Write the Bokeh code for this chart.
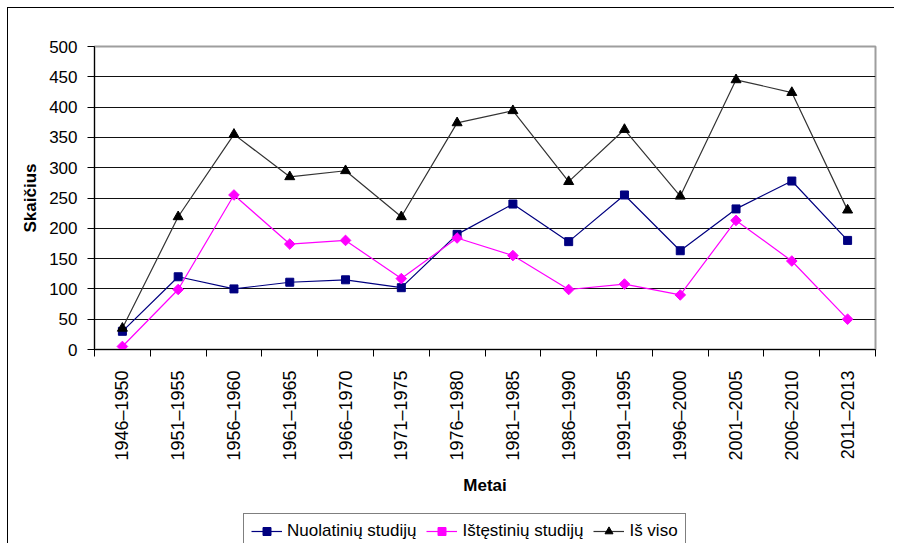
import math
from bokeh.plotting import figure
from bokeh.models import Range1d, FixedTicker, Legend, LegendItem, Spacer
from bokeh.layouts import column, row
from bokeh.embed import file_html
from bokeh.resources import INLINE

periods = ["1946–1950", "1951–1955", "1956–1960", "1961–1965", "1966–1970",
           "1971–1975", "1976–1980", "1981–1985", "1986–1990", "1991–1995",
           "1996–2000", "2001–2005", "2006–2010", "2011–2013"]
nuolatiniu = [30, 120, 100, 111, 115, 102, 190, 240, 178, 255, 163, 232, 278, 180]
istestiniu = [5, 99, 255, 174, 180, 117, 184, 155, 99, 108, 90, 213, 146, 50]
is_viso = [35, 219, 355, 285, 295, 219, 374, 394, 277, 363, 253, 445, 424, 230]
y_ticks = [0, 50, 100, 150, 200, 250, 300, 350, 400, 450, 500]
series_names = ["Nuolatinių studijų", "Ištęstinių studijų", "Iš viso"]

FONT = "Liberation Sans"
xs = list(range(len(periods)))

p = figure(width=894, height=508, output_backend="svg", toolbar_location=None,
           x_range=Range1d(-0.5, len(periods) - 0.5), y_range=Range1d(0, 500),
           min_border_left=94, min_border_right=19, min_border_top=46,
           min_border_bottom=159)
p.background_fill_color = "white"
p.border_fill_color = None
p.outline_line_color = "#9e9e9e"
p.outline_line_width = 2

# x axis
p.xaxis.ticker = FixedTicker(ticks=xs, minor_ticks=[i - 0.5 for i in range(len(periods) + 1)])
p.xaxis.major_label_overrides = {i: lab for i, lab in zip(xs, periods)}
p.xaxis.major_label_orientation = 1.5707963267948966
p.xaxis.major_tick_out = 0
p.xaxis.major_tick_in = 0
p.xaxis.minor_tick_out = 7
p.xaxis.minor_tick_in = 0
p.xaxis.minor_tick_line_color = "black"
p.xaxis.major_label_standoff = 14
p.xaxis.major_label_text_font = FONT
p.xaxis.major_label_text_font_size = "18px"
p.xaxis.major_label_text_color = "black"
p.xaxis.axis_label = "Metai"
p.xaxis.axis_label_text_font = FONT
p.xaxis.axis_label_text_font_size = "17px"
p.xaxis.axis_label_text_font_style = "bold"
p.xaxis.axis_label_standoff = 12
p.xaxis.axis_label_text_color = "black"
p.xaxis.axis_line_color = "black"

# y axis
p.yaxis.ticker = FixedTicker(ticks=y_ticks)
p.yaxis.major_tick_out = 7
p.yaxis.major_tick_in = 0
p.yaxis.minor_tick_line_color = None
p.yaxis.major_label_standoff = 10
p.yaxis.major_label_text_font = FONT
p.yaxis.major_label_text_font_size = "17px"
p.yaxis.major_label_text_color = "black"
p.yaxis.axis_label = "Skaičius"
p.yaxis.axis_label_text_font = FONT
p.yaxis.axis_label_text_font_size = "17px"
p.yaxis.axis_label_text_font_style = "bold"
p.yaxis.axis_label_standoff = 6
p.yaxis.axis_label_text_color = "black"
p.yaxis.axis_line_color = "black"

p.xgrid.grid_line_color = None
p.ygrid.ticker = FixedTicker(ticks=y_ticks)
p.ygrid.grid_line_color = "#111111"
p.ygrid.grid_line_width = 1

styles = [
    dict(line_color="#000080", marker="square", size=8, angle=0.0, fill="#000080"),
    dict(line_color="#FF00FF", marker="square", size=7.5, angle=math.pi / 4, fill="#FF00FF"),
    dict(line_color="#333333", marker="triangle", size=10, angle=0.0, fill="black"),
]
all_series = [nuolatiniu, istestiniu, is_viso]


def draw(fig, xvals):
    out = []
    for ys, st in zip(all_series, styles):
        ln = fig.line(xvals, ys, line_color=st["line_color"], line_width=1.2)
        mk = fig.scatter(xvals, ys, marker=st["marker"], size=st["size"], angle=st["angle"],
                         fill_color=st["fill"], line_color=st["fill"])
        out.append([ln, mk])
    return out


draw(p, xs)

# legend figure (its own copies of the series, kept outside its visible range)
pl = figure(width=445, height=35, output_backend="svg", toolbar_location=None,
            x_range=Range1d(100, 101), y_range=Range1d(1000, 1001),
            x_axis_type=None, y_axis_type=None,
            min_border_left=0, min_border_right=0, min_border_top=5, min_border_bottom=0)
pl.background_fill_color = None
pl.border_fill_color = None
pl.outline_line_color = None
pl.xgrid.grid_line_color = None
pl.ygrid.grid_line_color = None
leg_rends = draw(pl, xs)

legend = Legend(items=[LegendItem(label=n, renderers=r) for n, r in zip(series_names, leg_rends)],
                orientation="horizontal", location="top_left")
legend.label_text_font = FONT
legend.label_text_font_size = "17px"
legend.label_text_color = "black"
legend.glyph_width = 31
legend.glyph_height = 20
legend.label_standoff = 5
legend.spacing = 10
legend.padding = 7
legend.margin = 0
legend.border_line_color = "black"
legend.border_line_width = 1
legend.background_fill_color = "white"
legend.background_fill_alpha = 1
pl.add_layout(legend, "center")

layout = column(p, row(Spacer(width=243, height=35), pl))
layout.styles = {
    "background": "linear-gradient(#000,#000) 7px 7px / 1px 100% no-repeat, "
                  "linear-gradient(#000,#000) 7px 7px / 100% 1px no-repeat, #fff"
}

open("out.html", "w").write(file_html(layout, INLINE))
